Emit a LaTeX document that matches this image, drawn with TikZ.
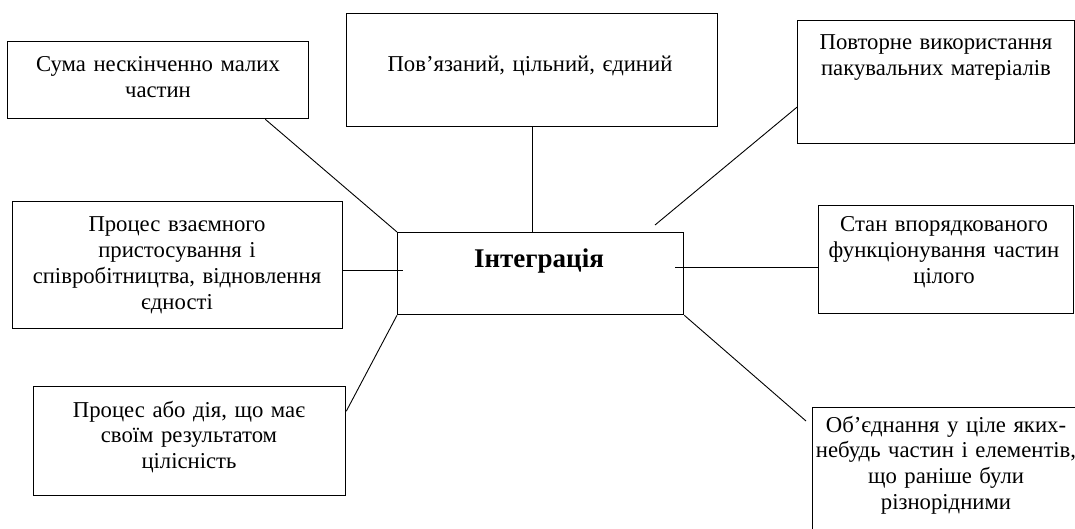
\documentclass[tikz,border=0pt]{standalone}
\usepackage{fontspec}
\setmainfont{Liberation Serif}
\begin{document}
\begin{tikzpicture}[x=1pt,y=-1pt,
  box/.style={draw,line width=1.3pt,inner sep=0pt,anchor=north west},
  txt/.style={anchor=base,text width=360pt,align=center,inner sep=0pt,font=\fontsize{22.7}{25.7}\selectfont},
  ttl/.style={anchor=base,inner sep=0pt,font=\fontsize{27}{30}\selectfont\bfseries},
  link/.style={line width=0.9pt}]
\useasboundingbox (0,0) rectangle (1075,529);
\clip (0,0) rectangle (1075,529);
% boxes
\node[box,minimum width=301,minimum height=77] (suma) at (7,41) {};
\node[box,minimum width=371,minimum height=113] (pov) at (346,13) {};
\node[box,minimum width=277,minimum height=123] (povt) at (797,20) {};
\node[box,minimum width=330,minimum height=127] (proc1) at (12,201) {};
\node[box,minimum width=286,minimum height=82] (integ) at (397,232) {};
\node[box,minimum width=255,minimum height=108] (stan) at (818,205) {};
\node[box,minimum width=312,minimum height=109] (proc2) at (33,386) {};
\node[box,minimum width=280,minimum height=140] (obj) at (812,407) {};
% texts
\node[txt] (sumat) at (158,72) {Сума нескінченно малих\\частин};
\node[txt] (povtx) at (530,72) {Пов’язаний, цільний, єдиний};
\node[txt] (povtt) at (936,50) {Повторне використання\\пакувальних матеріалів};
\node[txt] (proc1t) at (177,232) {Процес взаємного\\пристосування і\\співробітництва, відновлення\\єдності};
\node[ttl] (integt) at (539,267) {Інтеграція};
\node[txt] (stant) at (944,232) {Стан впорядкованого\\функціонування частин\\цілого};
\node[txt] (proc2t) at (189,417) {Процес або дія, що має\\своїм результатом\\цілісність};
\node[txt] (objt) at (946,432) {Об’єднання у ціле яких-\\небудь частин і елементів,\\що раніше були\\різнорідними};
% connectors
\coordinate (c3) at (655,225);
\coordinate (c4) at (403,270);
\coordinate (c5) at (675,267);
\coordinate (c7) at (806,421);
\draw[link] ([xshift=-44pt]suma.south east) -- (integ.north west);
\draw[link] (pov.south) -- (pov.south |- integ.north);
\draw[link] ([yshift=-25pt]povt.west) -- (c3);
\draw[link] (proc1.east |- c4) -- (c4);
\draw[link] (c5) -- (c5 -| stan.west);
\draw[link] ([yshift=30pt]proc2.east) -- (integ.south west);
\draw[link] (integ.south east) -- (c7);
\end{tikzpicture}
\end{document}
